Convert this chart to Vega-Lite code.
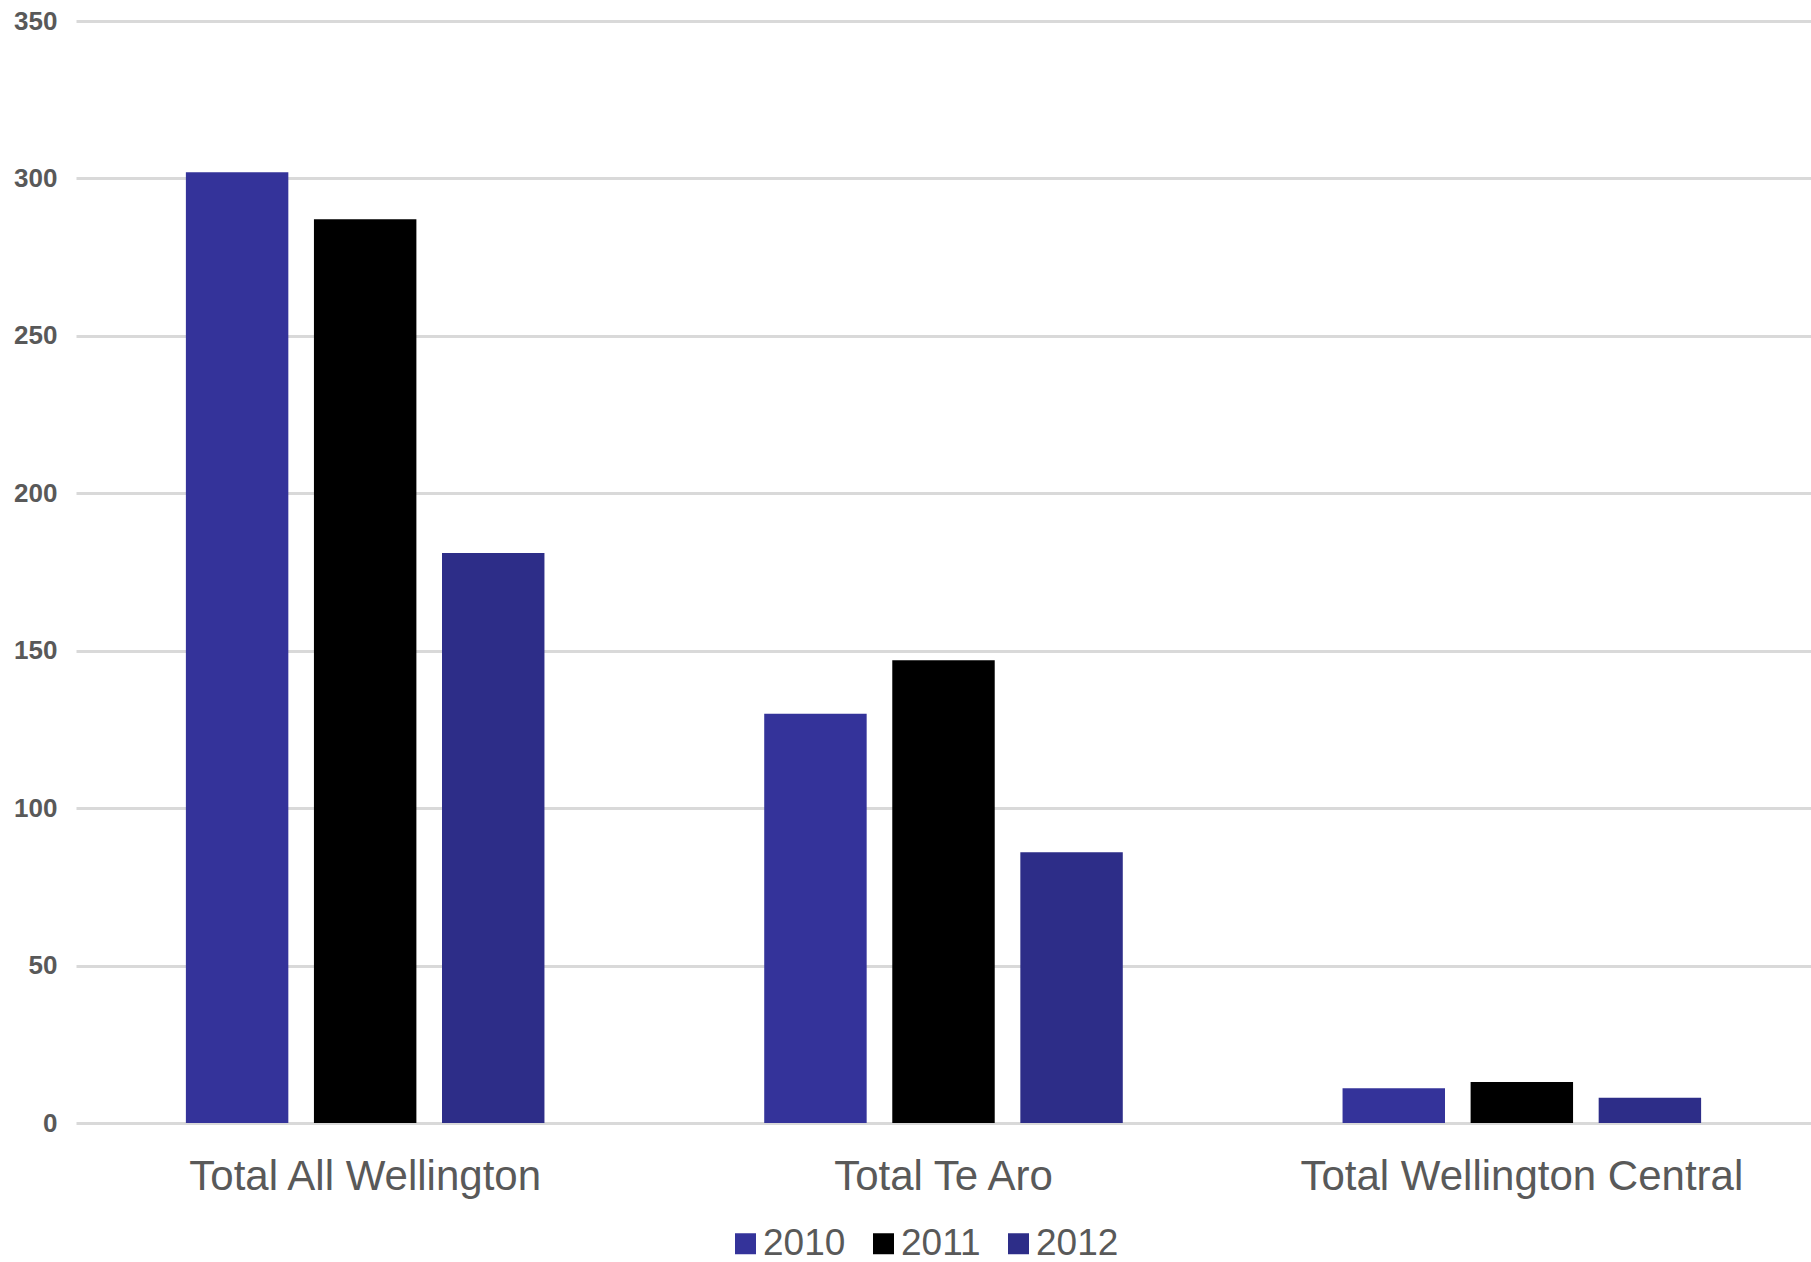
{
  "$schema": "https://vega.github.io/schema/vega-lite/v6.json",
  "width": 1735,
  "height": 1102,
  "autosize": {"type": "none"},
  "padding": {"left": 76, "top": 21, "right": 0, "bottom": 139},
  "background": "white",
  "data": {
    "values": [
      {"region": "Total All Wellington", "year": "2010", "value": 302},
      {"region": "Total All Wellington", "year": "2011", "value": 287},
      {"region": "Total All Wellington", "year": "2012", "value": 181},
      {"region": "Total Te Aro", "year": "2010", "value": 130},
      {"region": "Total Te Aro", "year": "2011", "value": 147},
      {"region": "Total Te Aro", "year": "2012", "value": 86},
      {"region": "Total Wellington Central", "year": "2010", "value": 11},
      {"region": "Total Wellington Central", "year": "2011", "value": 13},
      {"region": "Total Wellington Central", "year": "2012", "value": 8}
    ]
  },
  "mark": {"type": "bar"},
  "encoding": {
    "x": {
      "field": "region",
      "type": "nominal",
      "sort": ["Total All Wellington", "Total Te Aro", "Total Wellington Central"],
      "scale": {"paddingInner": 0.38, "paddingOuter": 0.19},
      "axis": {
        "title": null,
        "domain": false,
        "ticks": false,
        "tickSize": 0,
        "labelAngle": 0,
        "labelLimit": 0,
        "labelFont": "Liberation Sans, Arial, sans-serif",
        "labelFontSize": 42,
        "labelColor": "#595959",
        "labelPadding": 33
      }
    },
    "xOffset": {
      "field": "year",
      "type": "nominal",
      "scale": {"paddingInner": 0.2, "paddingOuter": 0}
    },
    "y": {
      "field": "value",
      "type": "quantitative",
      "scale": {"domain": [0, 350], "nice": false},
      "axis": {
        "title": null,
        "values": [0, 50, 100, 150, 200, 250, 300, 350],
        "domain": false,
        "ticks": false,
        "tickSize": 0,
        "grid": true,
        "gridColor": "#d9d9d9",
        "gridWidth": 3,
        "labelFont": "Liberation Sans, Arial, sans-serif",
        "labelFontSize": 26,
        "labelFontWeight": "bold",
        "labelColor": "#595959",
        "labelPadding": 19
      }
    },
    "color": {
      "field": "year",
      "type": "nominal",
      "scale": {"domain": ["2010", "2011", "2012"], "range": ["#34339a", "#000000", "#2d2d88"]},
      "legend": {
        "title": null,
        "orient": "none",
        "direction": "horizontal",
        "legendX": 651,
        "legendY": 1204,
        "padding": 0,
        "symbolType": "square",
        "symbolSize": 441,
        "symbolStrokeWidth": 0,
        "labelFont": "Liberation Sans, Arial, sans-serif",
        "labelFontSize": 37,
        "labelColor": "#595959",
        "labelOffset": -1,
        "labelLimit": 0,
        "columnPadding": 19
      }
    }
  },
  "config": {"view": {"stroke": null}}
}
